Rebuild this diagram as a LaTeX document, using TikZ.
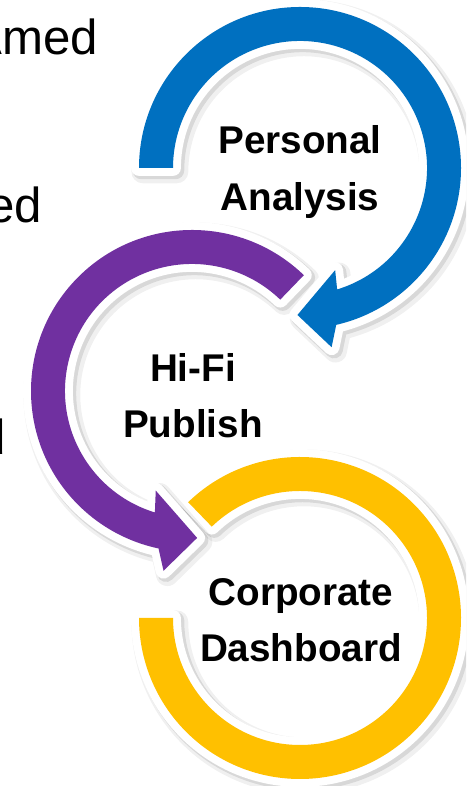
\documentclass[tikz,border=0pt]{standalone}
\usepackage{fontspec}
\setmainfont{Liberation Sans}

\definecolor{ringblue}{HTML}{0070C0}
\definecolor{ringpurple}{HTML}{7030A0}
\definecolor{ringyellow}{HTML}{FFC000}

\tikzset{
  band/.style={fill=#1, line join=round,
    preaction={draw=black, fill=black, line width=13pt, line join=round, opacity=.06, transform canvas={shift={(2.2pt,-2.2pt)}}},
    preaction={draw=black, fill=black, line width=10pt, line join=round, opacity=.10, transform canvas={shift={(1.4pt,-1.4pt)}}},
    preaction={draw=white, line width=9pt, line join=round}},
  steplabel/.style={font=\bfseries\fontsize{22}{32}\selectfont, align=center},
  sidetext/.style={font=\fontsize{28}{34}\selectfont, anchor=base east},
}

\begin{document}
\begin{tikzpicture}[x=0.02cm,y=0.02cm]
    \useasboundingbox (0,0) rectangle (466,786);
    \clip (0,0) rectangle (466,786);
    % text cut off on the left
    \node[sidetext] (amed) at (104,731) {Amed};
    \node[sidetext] (ed) at (48.5,563) {ed};
    \node[sidetext] (d) at (12,331) {d};
    % yellow ring
    \begin{scope}[shift={(300,168)}]
        \path[band=ringyellow] (134:161) arc[start angle=134, end angle=-180, radius=161]
            -- (180:127) arc[start angle=180, end angle=494, radius=127] -- cycle;
    \end{scope}
    % purple arrow
    \begin{scope}[shift={(192,395)}]
        \path[band=ringpurple] (46:161) arc[start angle=46, end angle=258, radius=161]
            -- (261:182) -- (272:147) -- (250:106) -- (253:127)
            arc[start angle=253, end angle=46, radius=127] -- cycle;
    \end{scope}
    % blue arrow
    \begin{scope}[shift={(300,618)}]
        \path[band=ringblue] (180:161) arc[start angle=180, end angle=-77, radius=161]
            -- (-80:182) -- (-91:147) -- (-71:108) -- (-73:127)
            arc[start angle=-73, end angle=180, radius=127] -- cycle;
    \end{scope}
    % labels
    \node[steplabel] (personal) at (300,614) {Personal\\Analysis};
    \node[steplabel] (hifi) at (193,390) {Hi-Fi\\Publish};
    \node[steplabel] (corporate) at (301,166) {Corporate\\Dashboard};
\end{tikzpicture}
\end{document}
